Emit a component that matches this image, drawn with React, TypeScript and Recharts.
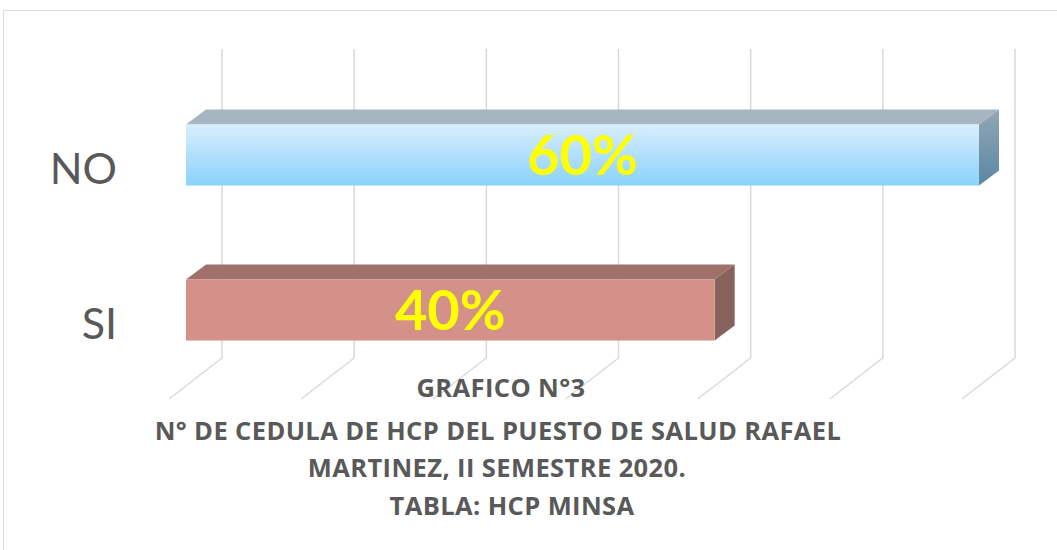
import { BarChart, Bar, XAxis, YAxis, ReferenceLine, LabelList } from 'recharts'

const categorias = ['NO', 'SI']
const valores = [0.6, 0.4]
const ticksX = [0, 0.1, 0.2, 0.3, 0.4, 0.5, 0.6]
const titulo = [
    'GRAFICO N°3',
    'N° DE CEDULA DE HCP DEL PUESTO DE SALUD RAFAEL',
    'MARTINEZ, II SEMESTRE 2020.',
    'TABLA: HCP MINSA',
]

const datos = categorias.map((nombre, i) => ({ nombre, valor: valores[i] }))

// colores por barra: frente (degradado), tapa y lado
const COLORES = [
    { frenteA: '#d9eefd', frenteB: '#8ad2fb', tapa: '#a6b6c0', ladoA: '#93a7b4', ladoB: '#5a87a3' },
    { frenteA: '#d3918a', frenteB: '#d3918a', tapa: '#a0716b', ladoA: '#87625c', ladoB: '#87625c' },
]

const FUENTE = 'Lato, "Open Sans", sans-serif'
const FUENTE_TITULO = '"Open Sans", Lato, sans-serif'
const GRIS = '#595959'
const DX = 20
const DY = 15

const Barra3D = (props: any) => {
    const { x, y, width, height, index } = props
    const c = COLORES[index % COLORES.length]
    const r = x + width
    return (
        <g>
            <defs>
                <linearGradient id={`frente-${index}`} x1="0" y1="0" x2="0" y2="1">
                    <stop offset="0%" stopColor={c.frenteA} />
                    <stop offset="100%" stopColor={c.frenteB} />
                </linearGradient>
                <linearGradient id={`lado-${index}`} x1="0" y1="0" x2="0" y2="1">
                    <stop offset="0%" stopColor={c.ladoA} />
                    <stop offset="100%" stopColor={c.ladoB} />
                </linearGradient>
            </defs>
            <polygon
                points={`${x},${y} ${x + DX},${y - DY} ${r + DX},${y - DY} ${r},${y}`}
                fill={c.tapa}
            />
            <polygon
                points={`${r},${y} ${r + DX},${y - DY} ${r + DX},${y + height - DY} ${r},${y + height}`}
                fill={`url(#lado-${index})`}
            />
            <rect x={x} y={y} width={width} height={height} fill={`url(#frente-${index})`} />
        </g>
    )
}

// linea de la pared del fondo + piso en perspectiva
const LineaFondo = (p: any) => {
    const bx = p.x1 + 36
    const arriba = Math.min(p.y1, p.y2) - 28.5
    const abajo = Math.max(p.y1, p.y2) - 29.5
    return (
        <polyline
            points={`${bx},${arriba} ${bx},${abajo} ${bx - 53},${abajo + 41}`}
            fill="none"
            stroke="#d9d9d9"
            strokeWidth={1.5}
        />
    )
}

const TickCategoria = ({ y, payload }: any) => (
    <text x={117} y={y + 29} textAnchor="end" fill={GRIS} fontSize={43} fontFamily={FUENTE}>
        {payload.value}
    </text>
)

const centrosTitulo = [501, 498, 497, 512]
const baseTitulo = [397, 440, 477, 515]

export default function App() {
    return (
        <div style={{ position: 'absolute', left: 0, top: 0, width: 1057, height: 550, overflow: 'hidden', background: '#fff' }}>
            <div
                style={{
                    position: 'absolute', left: 3, top: 10, width: 1100, height: 600,
                    border: '1.5px solid #d9d9d9', boxSizing: 'border-box',
                }}
            />
            <div style={{ position: 'absolute', left: 0, top: 0 }}>
                <BarChart
                    width={1057}
                    height={550}
                    data={datos}
                    layout="vertical"
                    margin={{ top: 77.5, right: 78, bottom: 162.5, left: 0 }}
                    barSize={61}
                >
                    <XAxis type="number" domain={[0, 0.6]} ticks={ticksX} hide />
                    <YAxis
                        type="category"
                        dataKey="nombre"
                        width={186}
                        axisLine={false}
                        tickLine={false}
                        tick={<TickCategoria />}
                    />
                    {ticksX.map((t) => (
                        <ReferenceLine key={t} x={t} shape={LineaFondo} zIndex={-50} />
                    ))}
                    <Bar dataKey="valor" shape={<Barra3D />} isAnimationActive={false}>
                        <LabelList
                            dataKey="valor"
                            position="center"
                            formatter={(v: any) => `${Math.round(Number(v) * 100)}%`}
                            fill="#ffff00"
                            fontSize={56}
                            fontWeight="bold"
                            fontFamily={FUENTE}
                        />
                    </Bar>
                </BarChart>
            </div>
            <svg width={1057} height={550} style={{ position: 'absolute', left: 0, top: 0, pointerEvents: 'none' }}>
                {titulo.map((linea, i) => (
                    <text
                        key={linea}
                        x={centrosTitulo[i]}
                        y={baseTitulo[i]}
                        textAnchor="middle"
                        fill={GRIS}
                        fontSize={25.5}
                        fontWeight="bold"
                        letterSpacing={0.4}
                        fontFamily={FUENTE_TITULO}
                    >
                        {linea}
                    </text>
                ))}
            </svg>
        </div>
    )
}
